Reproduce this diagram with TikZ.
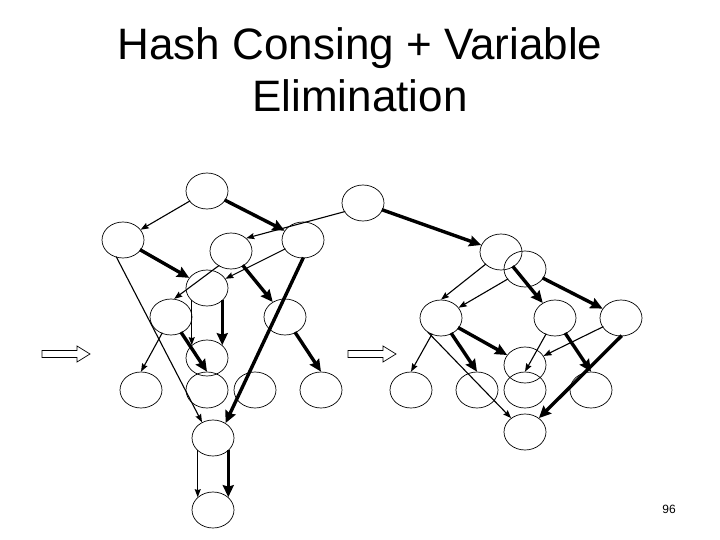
\documentclass[tikz,border=0pt]{standalone}
\usepackage{fontspec}
\setmainfont{Liberation Sans}
\usepackage{tikz}
\usetikzlibrary{arrows.meta}
\usetikzlibrary{shapes.geometric}

\begin{document}
\begin{tikzpicture}[x=1pt,y=-1pt,
  bdd/.style={draw,ellipse,line width=.7pt,minimum width=42pt,minimum height=36pt,inner sep=0},
  lo/.style={-{Stealth[length=8pt,width=6pt,inset=1pt]},line width=1.1pt,shorten <=-1pt},
  hi/.style={-{Stealth[length=12pt,width=11pt,inset=1.5pt]},line width=3.4pt,shorten <=-1pt}]
\useasboundingbox (0,0) rectangle (720,540);
\node[anchor=base,font=\fontsize{44}{50}\selectfont] (title1) at (360,60) {Hash Consing + Variable};
\node[anchor=base,font=\fontsize{44}{50}\selectfont] (title2) at (360,112) {Elimination};
\node[anchor=base,font=\fontsize{12}{14}\selectfont] (page) at (669,513) {96};
\foreach \n/\x/\y in {A/207/191, B/123/240, C/303/240, D/231/251, E/207/288, F/171/317, G/285/317,
  H/207/358, I/141/390, J/207/390, K/255/390, L/321/390, M/213/438, N/213/510,
  R/363/203, S/501/252, T/525/269, U/441/318, V/555/318, W/621/318,
  X/525/365, P1/411/390, P2/477/390, P3/525/390, P4/591/390, Y/525/432} {
  \node[bdd] (\n) at (\x,\y) {};
}
\foreach \x in {42,348} {
  \draw[line width=.7pt] (\x,350.5) -- ({\x+35},350.5) -- ({\x+35},346) -- ({\x+48},354) -- ({\x+35},362) -- ({\x+35},357.5) -- (\x,357.5) -- cycle;
}
\draw[lo] (A) -- (B);
\draw[hi] (A) -- (C);
\draw[lo] (R.205) -- (D.40);
\draw[lo] (C) -- (E);
\draw[hi] (B) -- (E);
\draw[lo] (D.230) -- (F.80);
\draw[hi] (D) -- (G);
\draw[lo] (E.220) -- (H.140);
\draw[hi] (E.320) -- (H.40);
\draw[lo] (F) -- (I.north);
\draw[hi] (F) -- (J.north);
\draw[lo] (B.250) -- (M.125);
\draw[hi] (C.south) -- (M.50);
\draw[hi] (G) -- (L.north);
\draw[lo] (M.220) -- (N.140);
\draw[hi] (M.320) -- (N.40);
\draw[hi] (R) -- (S);
\draw[lo] (S) -- (U.north);
\draw[hi] (S) -- (V);
\draw[lo] (T) -- (U);
\draw[hi] (T) -- (W);
\draw[lo] (U) -- (P1.north);
\draw[hi] (U) -- (P2.north);
\draw[hi] (U) -- (X);
\draw[lo] (U.230) -- (Y.135);
\draw[lo] (V) -- (P3.north);
\draw[hi] (V) -- (P4.north);
\draw[lo] (W) -- (X);
\draw[hi] (W.south) -- (Y.45);
\end{tikzpicture}
\end{document}
